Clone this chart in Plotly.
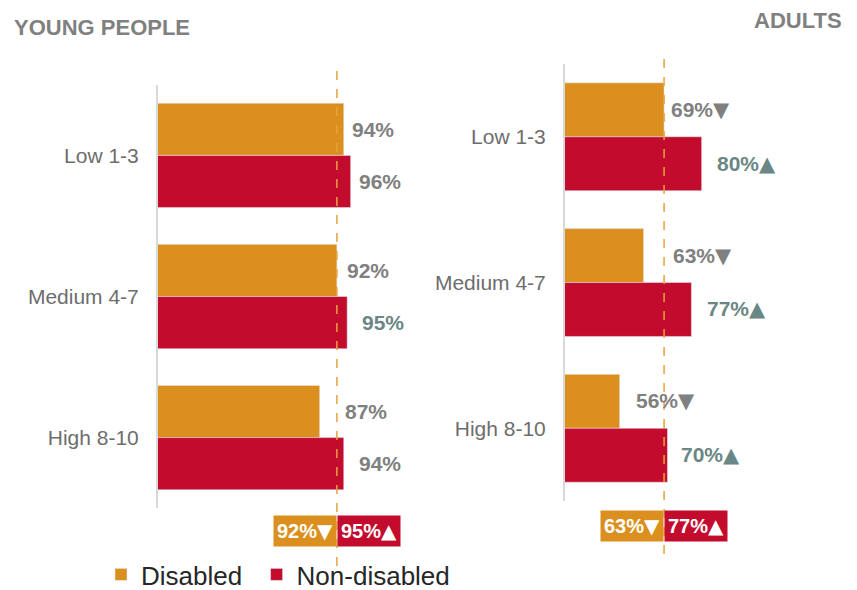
import plotly.graph_objects as go

# data
groups = ["Low 1-3", "Medium 4-7", "High 8-10"]

young_disabled = [94, 92, 87]
young_non_disabled = [96, 95, 94]
young_total = [92, 95]

adult_disabled = [69, 63, 56]
adult_non_disabled = [80, 77, 70]
adult_total = [63, 77]

ref_line = [92, 69]

# styles
ORANGE = "#DB8F1E"
RED = "#C30B2D"
GREY = "#808080"
TEAL = "#6A8785"
FONT = "Liberation Sans, Arial, sans-serif"
TRI = "<span style='font-family:DejaVu Sans'>{}</span>"

young_dis_colors = [GREY, GREY, GREY]
young_non_colors = [GREY, TEAL, GREY]
adult_dis_colors = [GREY, GREY, GREY]
adult_non_colors = [TEAL, TEAL, TEAL]

young_dis_shift = [6, 8, 23]
young_non_shift = [6, 13, 13]
adult_dis_shift = [5, 27, 14]
adult_non_shift = [13, 14, 11]

# page body adds an 8px margin, so screen pixels are shifted
OFF = 8
W = 857
H = 590


def px(x):
    return (x - OFF) / W


def py(y):
    return 1 - (y - OFF) / H


fig = go.Figure()

fig.add_trace(go.Bar(
    y=groups, x=young_disabled, orientation="h", name="Disabled\u00a0\u200a",
    marker_color=ORANGE, xaxis="x", yaxis="y"
))
fig.add_trace(go.Bar(
    y=groups, x=young_non_disabled, orientation="h", name="Non-disabled",
    marker_color=RED, xaxis="x", yaxis="y"
))
fig.add_trace(go.Bar(
    y=groups, x=adult_disabled, orientation="h", name="Disabled",
    marker_color=ORANGE, xaxis="x2", yaxis="y2", showlegend=False
))
fig.add_trace(go.Bar(
    y=groups, x=adult_non_disabled, orientation="h", name="Non-disabled",
    marker_color=RED, xaxis="x2", yaxis="y2", showlegend=False
))

half = (1 - 0.26) / 4

annotations = []


def bar_labels(values, colors, shifts, xref, yref, offset, suffix):
    for i, v in enumerate(values):
        tri = TRI.format(suffix) if suffix else ""
        annotations.append(dict(
            x=v, y=i + offset, xref=xref, yref=yref,
            text=f"{v}%{tri}", showarrow=False,
            xanchor="left", yanchor="middle", xshift=shifts[i],
            font=dict(family=FONT, size=21, color=colors[i], weight="bold")
        ))


bar_labels(young_disabled, young_dis_colors, young_dis_shift, "x", "y", -half, "")
bar_labels(young_non_disabled, young_non_colors, young_non_shift, "x", "y", half, "")
bar_labels(adult_disabled, adult_dis_colors, adult_dis_shift, "x2", "y2", -half, "▼")
bar_labels(adult_non_disabled, adult_non_colors, adult_non_shift, "x2", "y2", half, "▲")

# summary boxes
for xref, ypos, line, totals in [("x", py(532), ref_line[0], young_total),
                                 ("x2", py(527), ref_line[1], adult_total)]:
    annotations.append(dict(
        x=line, y=ypos, xref=xref, yref="paper",
        text=f"{totals[0]}%" + TRI.format("▼"),
        showarrow=False, xanchor="right", yanchor="middle", bgcolor=ORANGE,
        borderpad=3, font=dict(family=FONT, size=20, color="white", weight="bold")
    ))
    annotations.append(dict(
        x=line, y=ypos, xref=xref, yref="paper",
        text=f"{totals[1]}%" + TRI.format("▲"),
        showarrow=False, xanchor="left", yanchor="middle", bgcolor=RED,
        borderpad=3, font=dict(family=FONT, size=20, color="white", weight="bold")
    ))

annotations.append(dict(
    x=px(12), y=py(28), xref="paper", yref="paper", text="YOUNG PEOPLE",
    showarrow=False, xanchor="left", yanchor="middle",
    font=dict(family=FONT, size=22, color="#808080", weight="bold")
))
annotations.append(dict(
    x=px(844), y=py(21), xref="paper", yref="paper", text="ADULTS",
    showarrow=False, xanchor="right", yanchor="middle",
    font=dict(family=FONT, size=22, color="#808080", weight="bold")
))

shapes = [
    dict(type="line", xref="x", yref="paper", x0=ref_line[0], x1=ref_line[0],
         y0=py(567), y1=py(66),
         line=dict(color="#E8A23C", width=1.5, dash="dash")),
    dict(type="line", xref="x2", yref="paper", x0=ref_line[1], x1=ref_line[1],
         y0=py(555), y1=py(57),
         line=dict(color="#E8A23C", width=1.5, dash="dash")),
]

yaxis_style = dict(
    autorange="reversed", showline=True, linecolor="#D9D9D9", linewidth=2,
    showgrid=False, zeroline=False, ticks="", ticklabelstandoff=13,
    tickfont=dict(family=FONT, size=21, color="#6D6D6D")
)

fig.update_layout(
    width=W, height=H,
    margin=dict(l=0, r=0, t=0, b=0),
    paper_bgcolor="white", plot_bgcolor="white",
    barmode="group", bargap=0.26, bargroupgap=0,
    xaxis=dict(domain=[px(158), px(364.4)], range=[40, 100], visible=False),
    xaxis2=dict(domain=[px(565), px(770)], range=[40, 100], visible=False),
    yaxis=dict(domain=[py(509), py(85)], anchor="x", **yaxis_style),
    yaxis2=dict(domain=[py(502), py(64)], anchor="x2", **yaxis_style),
    legend=dict(
        orientation="h", x=px(101), y=py(575), xanchor="left", yanchor="middle",
        font=dict(family=FONT, size=26, color="#262626"), bgcolor="rgba(0,0,0,0)"
    ),
    annotations=annotations,
    shapes=shapes,
)

fig.write_html("out.html")
